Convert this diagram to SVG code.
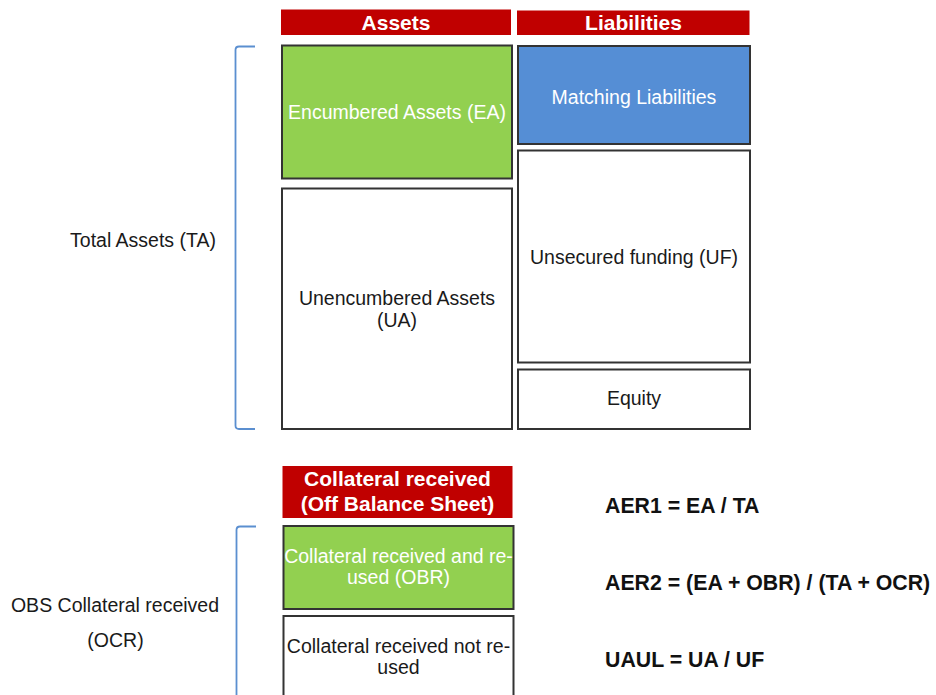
<svg xmlns="http://www.w3.org/2000/svg" width="936" height="695" viewBox="0 0 936 695">
  <style>
    text { font-family: "Liberation Sans", Arial, sans-serif; }
    .hdr { fill: #C00000; }
    .hdrt { fill: #ffffff; font-weight: bold; font-size: 21px; text-anchor: middle; }
    .box { fill: #ffffff; stroke: #333333; stroke-width: 2; }
    .green { fill: #92D050; stroke: #333333; stroke-width: 2; }
    .blue { fill: #558ED5; stroke: #333333; stroke-width: 2; }
    .t { fill: #1a1a1a; font-size: 19.5px; text-anchor: middle; }
    .tw { fill: #ffffff; font-size: 19.5px; text-anchor: middle; }
    .f { fill: #111111; font-size: 21.3px; font-weight: bold; }
    .br { fill: none; stroke: #5B8FD0; stroke-width: 1.8; }
  </style>
  <rect width="936" height="695" fill="#ffffff"/>

  <g id="hdr-assets">
    <rect class="hdr" x="281" y="9.5" width="230" height="25.5"/>
    <text class="hdrt" x="396" y="29.5">Assets</text>
  </g>
  <g id="hdr-liabilities">
    <rect class="hdr" x="517" y="10.5" width="232.5" height="24.5"/>
    <text class="hdrt" x="633.5" y="30">Liabilities</text>
  </g>

  <g id="node-ea">
    <rect class="green" x="282" y="45.5" width="230" height="133"/>
    <text class="tw" x="397" y="119">Encumbered Assets (EA)</text>
  </g>
  <g id="node-ml">
    <rect class="blue" x="518" y="46" width="232" height="98"/>
    <text class="tw" x="634" y="104">Matching Liabilities</text>
  </g>
  <g id="node-ua">
    <rect class="box" x="282" y="188.5" width="230" height="240.5"/>
    <text class="t" x="397" y="305">Unencumbered Assets</text>
    <text class="t" x="397" y="327">(UA)</text>
  </g>
  <g id="node-uf">
    <rect class="box" x="518" y="150.5" width="232" height="212"/>
    <text class="t" x="634" y="264">Unsecured funding (UF)</text>
  </g>
  <g id="node-equity">
    <rect class="box" x="518" y="369.5" width="232" height="59.5"/>
    <text class="t" x="634" y="405">Equity</text>
  </g>

  <g id="label-ta">
    <text class="t" x="143" y="247">Total Assets (TA)</text>
  </g>

  <g id="hdr-collateral">
    <rect class="hdr" x="282.5" y="466" width="230" height="52"/>
    <text class="hdrt" x="397.5" y="486">Collateral received</text>
    <text class="hdrt" x="397.5" y="510.5">(Off Balance Sheet)</text>
  </g>
  <g id="node-obr">
    <rect class="green" x="283.5" y="526" width="230" height="83"/>
    <text class="tw" x="398.5" y="563">Collateral received and re-</text>
    <text class="tw" x="398.5" y="584">used (OBR)</text>
  </g>
  <g id="node-notreused">
    <rect class="box" x="283.5" y="616" width="230" height="100"/>
    <text class="t" x="398.5" y="653">Collateral received not re-</text>
    <text class="t" x="398.5" y="674">used</text>
  </g>

  <g id="label-ocr">
    <text class="t" x="115" y="612">OBS Collateral received</text>
    <text class="t" x="115.5" y="647">(OCR)</text>
  </g>

  <g id="brackets">
    <path class="br" d="M255,46.5 H239 Q235.5,46.5 235.5,50 V425.5 Q235.5,429 239,429 H255"/>
    <path class="br" d="M256,526.5 H240 Q236.5,526.5 236.5,530 V700"/>
  </g>

  <g id="formulas">
    <text class="f" x="605" y="513">AER1 = EA / TA</text>
    <text class="f" x="605" y="590">AER2 = (EA + OBR) / (TA + OCR)</text>
    <text class="f" x="605" y="666.5">UAUL = UA / UF</text>
  </g>
</svg>
